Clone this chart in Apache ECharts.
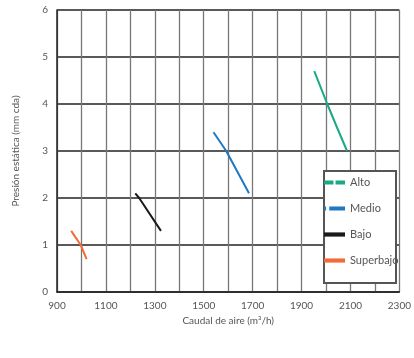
<!DOCTYPE html>
<html><head><meta charset="utf-8">
<script src="https://cdn.jsdelivr.net/npm/echarts@6/dist/echarts.min.js"></script>
<style>html,body{margin:0;padding:0;background:#fff}#c{width:414px;height:358px}</style>
</head><body><div id="c"></div>
<script>
var seriesNames = ['Alto', 'Medio', 'Bajo', 'Superbajo'];
var altoData = [[1952, 4.7], [2005, 4.0], [2045, 3.5], [2086, 3.0]];
var medioData = [[1540, 3.4], [1592, 3.0], [1685, 2.1]];
var bajoData = [[1220, 2.1], [1236, 2.0], [1325, 1.3]];
var superbajoData = [[958, 1.3], [997, 1.0], [1021, 0.7]];
var colors = ['#1aa886', '#1f78c0', '#1a1a1a', '#f26b3a'];
var xTickLabels = [900, 1100, 1300, 1500, 1700, 1900, 2100, 2300];
var yTickLabels = [0, 1, 2, 3, 4, 5, 6];

var FONT = "Lato, 'Liberation Sans', sans-serif";
var chart = echarts.init(document.getElementById('c'), null, {renderer: 'canvas'});
var dataSets = [altoData, medioData, bajoData, superbajoData];
var icons = [
  'path://M0,0H9V4H0Z M11,0H20V4H11Z',
  'path://M0,0H2V4H0Z M5,0H20V4H5Z',
  'path://M0,0H20V4H0Z',
  'path://M0,0H20V4H0Z'
];
chart.setOption({
  animation: false,
  backgroundColor: '#fff',
  grid: {left: 57, right: 11, top: 10, bottom: 66},
  xAxis: {
    type: 'value', min: 900, max: 2300, interval: 100,
    name: 'Caudal de aire (m³/h)', nameLocation: 'middle', nameGap: 24,
    nameTextStyle: {color: '#555', fontSize: 10, fontFamily: FONT},
    axisLine: {show: true, lineStyle: {color: '#222', width: 1.5}},
    axisTick: {show: false},
    axisLabel: {color: '#555', fontSize: 10, fontFamily: FONT, margin: 9,
      formatter: function (v) { return xTickLabels.indexOf(v) >= 0 ? String(v) : ''; }},
    splitLine: {show: true, lineStyle: {color: '#777', width: 1.3}}
  },
  yAxis: {
    type: 'value', min: 0, max: 6, interval: 1,
    name: 'Presión estática (mm cda)', nameLocation: 'middle', nameGap: 36,
    nameTextStyle: {color: '#555', fontSize: 10, fontFamily: FONT},
    axisLine: {show: true, lineStyle: {color: '#222', width: 1.5}},
    axisTick: {show: false},
    axisLabel: {color: '#555', fontSize: 10, fontFamily: FONT, margin: 9,
      formatter: function (v) { return yTickLabels.indexOf(v) >= 0 ? String(v) : ''; }},
    splitLine: {show: true, lineStyle: {color: '#222', width: 1.5}}
  },
  graphic: [{
    type: 'rect', z: 3,
    shape: {x: 324, y: 171, width: 72, height: 112},
    style: {fill: '#fff', stroke: '#555', lineWidth: 2}
  }],
  legend: {
    orient: 'vertical', left: 324, top: 177, z: 5,
    itemWidth: 21, itemHeight: 5, itemGap: 15, itemTextGap: 4, padding: 0,
    textStyle: {color: '#555', fontSize: 11, fontFamily: FONT},
    data: seriesNames.map(function (n, i) { return {name: n, icon: icons[i], itemStyle: {color: colors[i]}}; })
  },
  series: seriesNames.map(function (n, i) {
    return {
      name: n, type: 'line', data: dataSets[i], showSymbol: false, symbol: 'none',
      color: colors[i], lineStyle: {color: colors[i], width: 2}, z: 2
    };
  })
});
</script>
</body></html>
